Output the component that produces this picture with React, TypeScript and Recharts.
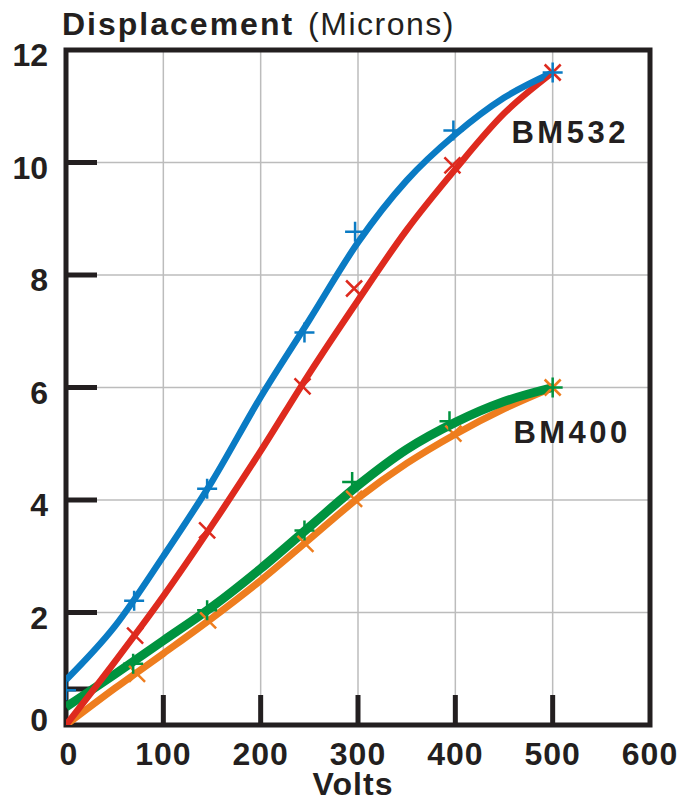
import { ComposedChart, Line, Scatter, XAxis, YAxis, CartesianGrid, ReferenceArea, ReferenceDot, ReferenceLine } from 'recharts';

// axis ticks
const voltTicks = [0, 100, 200, 300, 400, 500, 600];
const micronTicks = [0, 2, 4, 6, 8, 10, 12];
const extraMicronTick = 0.64; // short stray tick on the left edge

// measured points (markers)
const bm532aVolts = [0, 70, 145, 245, 297, 398, 500];
const bm532aMicrons = [0.62, 2.21, 4.2, 6.98, 8.77, 10.57, 11.6];
const bm532bVolts = [71, 145, 243, 296, 397, 500];
const bm532bMicrons = [1.59, 3.46, 6.02, 7.76, 9.95, 11.6];
const bm400aVolts = [69, 145, 245, 294, 394, 500];
const bm400aMicrons = [1.09, 2.04, 3.46, 4.32, 5.4, 6.0];
const bm400bVolts = [73, 146, 246, 296, 398, 500];
const bm400bMicrons = [0.91, 1.86, 3.22, 4.02, 5.18, 6.0];

// fitted curves
const curveVolts = [0, 50, 100, 150, 200, 250, 300, 350, 400, 450, 500];
const bm532aCurve = [0.8, 1.75, 3.0, 4.33, 5.83, 7.2, 8.58, 9.68, 10.5, 11.15, 11.6];
const bm532bCurve = [0, 1.12, 2.29, 3.55, 4.87, 6.25, 7.55, 8.8, 9.88, 10.87, 11.6];
const bm400aCurve = [0.32, 0.9, 1.5, 2.1, 2.78, 3.52, 4.26, 4.9, 5.38, 5.75, 6.0];
const bm400bCurve = [0, 0.65, 1.27, 1.9, 2.57, 3.3, 4.03, 4.65, 5.17, 5.62, 6.0];

const BLUE = '#0a7bc4';
const RED = '#de2a1e';
const GREEN = '#00933f';
const ORANGE = '#ee7d1e';
const INK = '#231f20';
const FONT = '"Liberation Sans", Arial, sans-serif';

const zip = (xs: number[], ys: number[]) => xs.map((v, i) => ({ v, d: ys[i] }));

const PlusMark = ({ cx, cy, color }: any) => (
  <path d={`M${cx - 10},${cy}H${cx + 10}M${cx},${cy - 10}V${cy + 10}`} stroke={color} strokeWidth={2.5} fill="none" />
);

const CrossMark = ({ cx, cy, color }: any) => (
  <path d={`M${cx - 8},${cy - 8}L${cx + 8},${cy + 8}M${cx - 8},${cy + 8}L${cx + 8},${cy - 8}`} stroke={color} strokeWidth={2.5} fill="none" />
);

const YTick = ({ x, y, payload }: any) => {
  const v = payload.value;
  return (
    <g>
      {v > 0 && v < 12 && <line x1={x} x2={x + 31} y1={y} y2={y} stroke={INK} strokeWidth={5} />}
      <text x={x - 18} y={y + (v === 0 ? 6 : 16)} textAnchor="end" fontFamily={FONT} fontWeight="bold" fontSize={32} fill={INK}>
        {v}
      </text>
    </g>
  );
};

const XTick = ({ x, y, payload }: any) => {
  const v = payload.value;
  return (
    <g>
      {v > 0 && v < 600 && <line x1={x} x2={x} y1={y} y2={y - 30} stroke={INK} strokeWidth={5} />}
      <text x={x + (v === 0 ? 3 : 0)} y={y + 40} textAnchor="middle" fontFamily={FONT} fontWeight="bold" fontSize={32} letterSpacing={1} fill={INK}>
        {v}
      </text>
    </g>
  );
};

const SeriesLabel = ({ cx, cy, text }: any) => (
  <text x={cx} y={cy} textAnchor="middle" fontFamily={FONT} fontWeight="bold" fontSize={31} letterSpacing={3.5} fill={INK}>
    {text}
  </text>
);

export default function App() {
  return (
    <div style={{ position: 'fixed', left: 0, top: 0, width: 683, height: 803, overflow: 'hidden', background: '#fff' }}>
      <div style={{ position: 'absolute', left: 8, top: 8 }}>
        <ComposedChart width={675} height={795} margin={{ top: 42, right: 33, bottom: 0, left: 0 }} style={{ overflow: 'visible' }}>
          <CartesianGrid stroke="#bcbcbc" strokeWidth={1.5} />
          <XAxis
            dataKey="v"
            type="number"
            domain={[0, 600]}
            ticks={voltTicks}
            height={78}
            axisLine={false}
            tickLine={false}
            tickSize={0}
            tickMargin={0}
            tick={<XTick />}
            allowDataOverflow
            label={({ viewBox }: any) => (
              <text x={viewBox.x + viewBox.width / 2 - 5} y={viewBox.y + 70} textAnchor="middle" fontFamily={FONT} fontWeight="bold" fontSize={32} letterSpacing={1} fill={INK}>
                Volts
              </text>
            )}
          />
          <YAxis
            dataKey="d"
            type="number"
            domain={[0, 12]}
            ticks={micronTicks}
            width={58}
            axisLine={false}
            tickLine={false}
            tickSize={0}
            tickMargin={0}
            tick={<YTick />}
            allowDataOverflow
          />
          <ReferenceLine
            segment={[{ x: 0, y: extraMicronTick }, { x: 31, y: extraMicronTick }]}
            stroke={INK}
            strokeWidth={5}
          />
          <Line data={zip(curveVolts, bm400bCurve)} dataKey="d" type="monotone" stroke={ORANGE} strokeWidth={7} dot={false} isAnimationActive={false} />
          <Line data={zip(curveVolts, bm400aCurve)} dataKey="d" type="monotone" stroke={GREEN} strokeWidth={9} dot={false} isAnimationActive={false} />
          <Line data={zip(curveVolts, bm532bCurve)} dataKey="d" type="monotone" stroke={RED} strokeWidth={6.5} dot={false} isAnimationActive={false} />
          <Line data={zip(curveVolts, bm532aCurve)} dataKey="d" type="monotone" stroke={BLUE} strokeWidth={6.5} dot={false} isAnimationActive={false} />
          <Scatter data={zip(bm400bVolts, bm400bMicrons)} dataKey="d" fill={ORANGE} shape={(p: any) => <CrossMark {...p} color={ORANGE} />} isAnimationActive={false} />
          <Scatter data={zip(bm400aVolts, bm400aMicrons)} dataKey="d" fill={GREEN} shape={(p: any) => <PlusMark {...p} color={GREEN} />} isAnimationActive={false} />
          <Scatter data={zip(bm532bVolts, bm532bMicrons)} dataKey="d" fill={RED} shape={(p: any) => <CrossMark {...p} color={RED} />} isAnimationActive={false} />
          <Scatter data={zip(bm532aVolts, bm532aMicrons)} dataKey="d" fill={BLUE} shape={(p: any) => <PlusMark {...p} color={BLUE} />} isAnimationActive={false} />
          <ReferenceDot x={518} y={10.34} r={0} shape={(p: any) => <SeriesLabel {...p} text="BM532" />} />
          <ReferenceDot x={520} y={5.01} r={0} shape={(p: any) => <SeriesLabel {...p} text="BM400" />} />
          <ReferenceArea x1={0} x2={600} y1={0} y2={12} fill="none" fillOpacity={0} stroke={INK} strokeWidth={5} />
        </ComposedChart>
      </div>
      <svg width={683} height={60} style={{ position: 'absolute', left: 0, top: 0, pointerEvents: 'none' }}>
        <text x={62} y={35} fontFamily={FONT} fontSize={32} fill={INK}>
          <tspan fontWeight="bold" letterSpacing={2}>Displacement</tspan>
          <tspan dx={14} letterSpacing={1.5}>(Microns)</tspan>
        </text>
      </svg>
    </div>
  );
}
